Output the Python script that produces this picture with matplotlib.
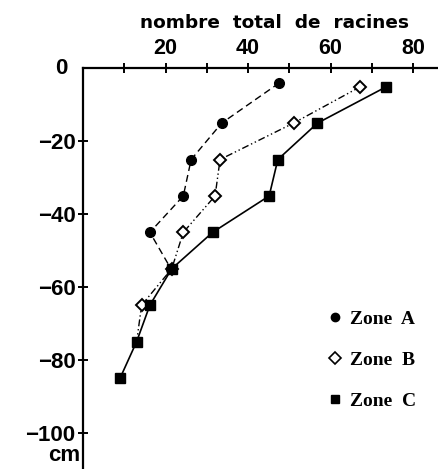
import matplotlib
matplotlib.use("Agg")
import matplotlib.pyplot as plt
from matplotlib.lines import Line2D
from matplotlib.transforms import blended_transform_factory

# Data: total number of roots vs depth (cm)
depth_A = [-4, -15, -25, -35, -45, -55]
roots_A = [47.5, 33.6, 26.2, 24.3, 16.2, 21.3]

depth_B = [-5, -15, -25, -35, -45, -55, -65, -75]
roots_B = [67.2, 51.0, 33.2, 32.0, 24.3, 21.5, 14.2, 13.0]

depth_C = [-5, -15, -25, -35, -45, -55, -65, -75, -85]
roots_C = [73.5, 56.8, 47.2, 45.1, 31.4, 21.5, 16.2, 13.0, 9.0]

xticks_major = [20, 40, 60, 80]
xticks_minor = [10, 30, 50, 70]
yticks = [-20, -40, -60, -80, -100]
ytick_labels = ["\u221220", "\u221240", "\u221260", "\u221280", "\u2212100"]
legend_labels = ["Zone  A", "Zone  B", "Zone  C"]
title = "nombre  total  de  racines"

W, H = 438, 469
fig = plt.figure(figsize=(W / 100, H / 100), dpi=100)
ax = fig.add_axes([83 / W, 0, 1 - 83 / W, 1 - 68.5 / H])
ax.set_xlim(0, 86)
ax.set_ylim(-110, 0)

ax.plot(roots_A, depth_A, color="black", lw=1.0, linestyle=(0, (5, 3)),
        marker="o", ms=7, mfc="black", mec="black", zorder=3)
ax.plot(roots_B, depth_B, color="black", lw=1.0, linestyle=(0, (5, 2, 1, 2, 1, 2)),
        marker="D", ms=6.5, mfc="white", mec="black", mew=1.4, zorder=4,
        markevery=list(range(len(roots_B) - 1)))
ax.plot(roots_C, depth_C, color="black", lw=1.2, linestyle="-",
        marker="s", ms=7, mfc="black", mec="black", zorder=5)

for s in ["right", "bottom"]:
    ax.spines[s].set_visible(False)
for s in ["top", "left"]:
    ax.spines[s].set_linewidth(1.6)

ax.xaxis.tick_top()
ax.set_xticks(xticks_major)
ax.set_xticks(xticks_minor, minor=True)
ax.set_xticklabels([str(v) for v in xticks_major], fontfamily="Liberation Sans",
                   fontweight="bold", fontsize=15.5)
ax.tick_params(axis="x", which="both", direction="inout", length=7, width=1.4, pad=3)

ax.set_yticks(yticks)
ax.set_yticklabels(ytick_labels, fontfamily="Liberation Sans", fontweight="bold", fontsize=16)
ax.tick_params(axis="y", direction="inout", length=7, width=1.4, pad=2)

trans = blended_transform_factory(fig.transFigure, ax.transData)
ax.text(68 / W, 0, "0", transform=trans, ha="right", va="center",
        fontfamily="Liberation Sans", fontweight="bold", fontsize=16)
fig.text(80 / W, 1 - 455 / H, "cm", ha="right", va="center",
         fontfamily="Liberation Sans", fontweight="bold", fontsize=16)

fig.text(275 / W, 1 - 23 / H, title, ha="center", va="center",
         fontfamily="DejaVu Sans", fontweight="bold", fontsize=13.3)

handles = [
    Line2D([], [], linestyle="none", marker="o", ms=6, mfc="black", mec="black"),
    Line2D([], [], linestyle="none", marker="D", ms=6, mfc="white", mec="black", mew=1.2),
    Line2D([], [], linestyle="none", marker="s", ms=6, mfc="black", mec="black"),
]
leg = fig.legend(handles, legend_labels, loc="upper left",
                 bbox_to_anchor=(329 / W, 1 - 310 / H), frameon=False,
                 handlelength=0.6, handletextpad=0.5, labelspacing=1.2,
                 prop={"family": "Liberation Serif", "weight": "bold", "size": 14},
                 borderpad=0, borderaxespad=0)

fig.savefig("out.png", dpi=100)
